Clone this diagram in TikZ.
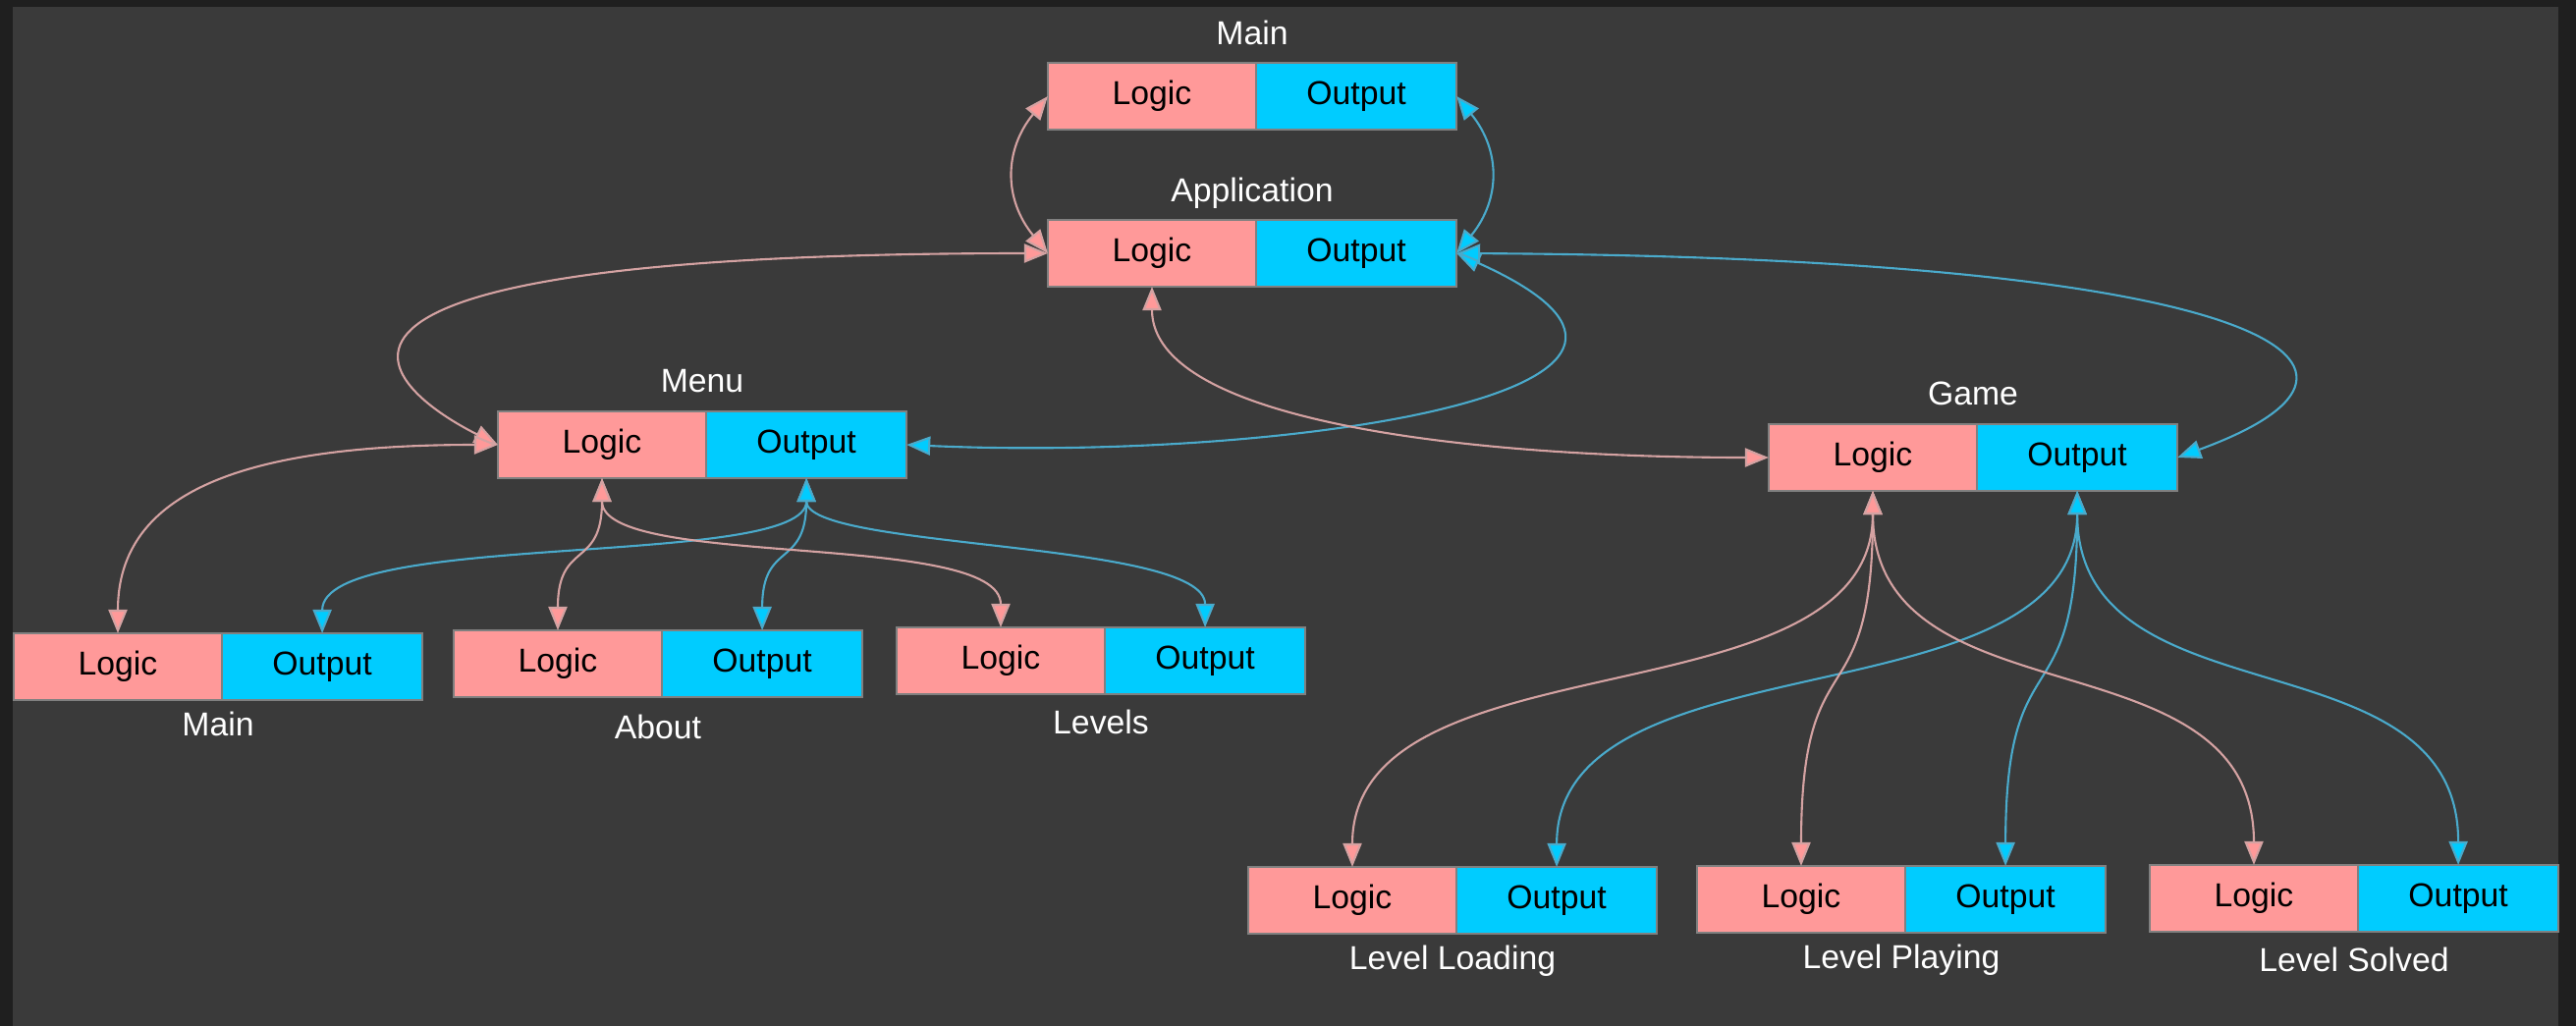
\documentclass[tikz,border=0pt]{standalone}
\usepackage{fontspec}
\setmainfont{Liberation Sans}
\usetikzlibrary{positioning, arrows.meta}

\definecolor{frame}{HTML}{1F1F1F}
\definecolor{canvas}{HTML}{3A3A3A}
\definecolor{boxpink}{HTML}{FF9999}
\definecolor{boxcyan}{HTML}{00CCFF}
\definecolor{boxrim}{HTML}{808080}
\definecolor{linepink}{HTML}{D4A2A2}
\definecolor{linecyan}{HTML}{4AAACB}

\tikzset{
  lgcbox/.style = {rectangle, fill=boxpink, draw=boxrim, line width=0.4pt, inner sep=0pt, outer sep=0pt,
                   minimum width=2.12cm, minimum height=0.68cm, text=black, font=\fontsize{9.6}{11}\selectfont},
  outbox/.style = {lgcbox, fill=boxcyan, minimum width=2.04cm},
  ttl/.style = {anchor=base, inner sep=0pt, text=white, font=\fontsize{9.6}{11}\selectfont},
  lgcedge/.style = {draw=linepink, line width=0.6pt, <->, >={Triangle[length=0.24cm, width=0.19cm, fill=boxpink]}},
  outedge/.style = {draw=linecyan, line width=0.6pt, <->, >={Triangle[length=0.24cm, width=0.19cm, fill=boxcyan]}}
}

\begin{document}
\begin{tikzpicture}[x=0.01cm, y=-0.01cm]
\useasboundingbox (0,0) rectangle (2623,1045);
\fill[frame] (0,0) rectangle (2623,1045);
\fill[canvas] (13,7) rectangle (2605,1045);

% top level
\node[lgcbox] (mainL) at (1173,98) {Logic};
\node[outbox, right=0pt of mainL] (mainO) {Output};
\node[ttl] (mainT) at (1275,45) {Main};

\node[lgcbox] (appL) at (1173,258) {Logic};
\node[outbox, right=0pt of appL] (appO) {Output};
\node[ttl] (appT) at (1275,205) {Application};

% screens
\node[lgcbox] (menuL) at (613,453) {Logic};
\node[outbox, right=0pt of menuL] (menuO) {Output};
\node[ttl] (menuT) at (715,399) {Menu};

\node[lgcbox] (gameL) at (1907,466) {Logic};
\node[outbox, right=0pt of gameL] (gameO) {Output};
\node[ttl] (gameT) at (2009,412) {Game};

% menu states
\node[lgcbox] (mainsL) at (120,679) {Logic};
\node[outbox, right=0pt of mainsL] (mainsO) {Output};
\node[ttl] (mainsT) at (222,749) {Main};

\node[lgcbox] (aboutL) at (568,676) {Logic};
\node[outbox, right=0pt of aboutL] (aboutO) {Output};
\node[ttl] (aboutT) at (670,752) {About};

\node[lgcbox] (levelsL) at (1019,673) {Logic};
\node[outbox, right=0pt of levelsL] (levelsO) {Output};
\node[ttl] (levelsT) at (1121,747) {Levels};

% game states
\node[lgcbox] (loadL) at (1377,917) {Logic};
\node[outbox, right=0pt of loadL] (loadO) {Output};
\node[ttl] (loadT) at (1479,987) {Level Loading};

\node[lgcbox] (playL) at (1834,916) {Logic};
\node[outbox, right=0pt of playL] (playO) {Output};
\node[ttl] (playT) at (1936,986) {Level Playing};

\node[lgcbox] (solvL) at (2295,915) {Logic};
\node[outbox, right=0pt of solvL] (solvO) {Output};
\node[ttl] (solvT) at (2397,989) {Level Solved};

% main <-> application
\draw[lgcedge] (appL.west) .. controls +(-45,-55) and +(-45,55) .. (mainL.west);
\draw[outedge] (appO.east) .. controls +(45,-55) and +(45,55) .. (mainO.east);

% application <-> screens
\draw[lgcedge] (appL.west) .. controls (200,258) and (407,403) .. (menuL.west);
\draw[outedge] (appO.east) .. controls (1800,400) and (1300,470) .. (menuO.east);
\draw[lgcedge] (appL.south) .. controls (1173,430) and (1500,466) .. (gameL.west);
\draw[outedge] (appO.east) .. controls (2300,262) and (2480,370) .. (gameO.east);

% menu <-> states
\draw[lgcedge] (menuL.west) .. controls (250,453) and (120,500) .. (mainsL.north);
\draw[outedge] (menuO.south) .. controls +(0,93) and +(0,-106) .. (mainsO.north);
\draw[lgcedge] (menuL.south) .. controls +(0,93) and +(0,-92) .. (aboutL.north);
\draw[outedge] (menuO.south) .. controls +(0,93) and +(0,-92) .. (aboutO.north);
\draw[lgcedge] (menuL.south) .. controls +(0,93) and +(0,-99) .. (levelsL.north);
\draw[outedge] (menuO.south) .. controls +(0,73) and +(0,-89) .. (levelsO.north);

% game <-> states
\draw[lgcedge] (gameL.south) .. controls +(0,240) and +(0,-240) .. (loadL.north);
\draw[outedge] (gameO.south) .. controls +(0,240) and +(0,-240) .. (loadO.north);
\draw[lgcedge] (gameL.south) .. controls +(0,240) and +(0,-240) .. (playL.north);
\draw[outedge] (gameO.south) .. controls +(0,240) and +(0,-240) .. (playO.north);
\draw[lgcedge] (gameL.south) .. controls +(0,240) and +(0,-240) .. (solvL.north);
\draw[outedge] (gameO.south) .. controls +(0,240) and +(0,-240) .. (solvO.north);
\end{tikzpicture}
\end{document}
